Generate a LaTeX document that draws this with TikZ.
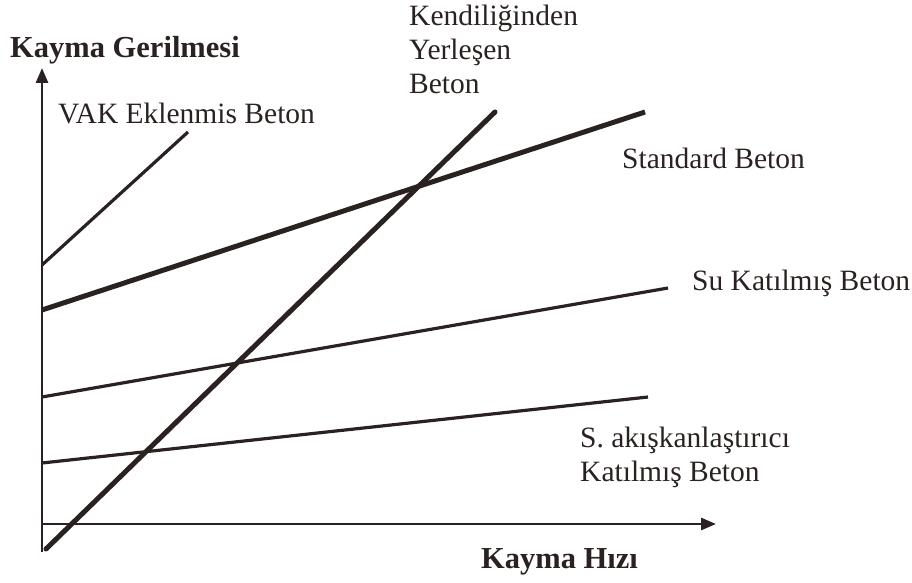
\documentclass[tikz,border=0pt]{standalone}
\usepackage{fontspec}
\setmainfont{Liberation Serif}
\usepackage{tikz}
\usetikzlibrary{positioning, arrows.meta, calc}

\definecolor{ink}{RGB}{42,34,32}

\begin{document}
\begin{tikzpicture}[x=1pt, y=-1pt, >={Triangle[length=15pt,width=12pt]},
     axis/.style={draw=ink, line width=2.8pt, ->},
     thickcurve/.style={draw=ink, line width=5pt},
     thincurve/.style={draw=ink, line width=3.2pt},
     lbl/.style={font=\fontsize{29.5}{34}\selectfont, text=ink, inner sep=0pt, align=left},
     axlbl/.style={font=\fontsize{30.5}{34}\selectfont\bfseries, text=ink, inner sep=0pt}]

  \useasboundingbox (0,0) rectangle (912,583);

  % axes
  \coordinate (o) at (42,552);
  \coordinate (ytop) at (42,68);
  \coordinate (xo) at (42,524);
  \coordinate (xend) at (716,524);
  \draw[axis] (o) -- (ytop);
  \draw[axis] (xo) -- (xend);

  % end points of the lines
  \coordinate (vak0) at (42,265);
  \coordinate (vak1) at (188,132);
  \coordinate (std0) at (42,310);
  \coordinate (std1) at (645,112);
  \coordinate (scc0) at (46,549);
  \coordinate (scc1) at (495,112);
  \coordinate (su0) at (42,397);
  \coordinate (su1) at (668,288);
  \coordinate (sp0) at (42,463);
  \coordinate (sp1) at (648,397);

  \draw[thincurve] (vak0) -- (vak1);
  \draw[thickcurve] (std0) -- (std1);
  \draw[thickcurve, line cap=round] (scc0) -- (scc1);
  \draw[thincurve] (su0) -- (su1);
  \draw[thincurve] (sp0) -- (sp1);

  % labels
  \node[axlbl, anchor=west] (ylbl) at (10,50) {Kayma Gerilmesi};
  \node[axlbl, anchor=west] (xlbl) at (481,562) {Kayma Hızı};
  \node[lbl, anchor=west] (vak) at (58,113) {VAK Eklenmis Beton};
  \node[lbl, anchor=north west] (scc) at (409,5) {Kendiliğinden\\Yerleşen\\Beton};
  \node[lbl, anchor=west] (std) at (622,158) {Standard Beton};
  \node[lbl, anchor=west] (su) at (692,283) {Su Katılmış Beton};
  \node[lbl, anchor=north west] (sp) at (580,427) {S. akışkanlaştırıcı\\Katılmış Beton};
\end{tikzpicture}
\end{document}
